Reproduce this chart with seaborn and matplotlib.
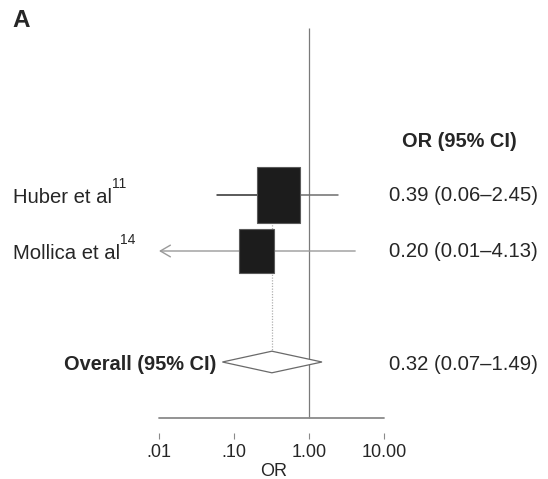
import numpy as np
import pandas as pd
import matplotlib
matplotlib.use("Agg")
import matplotlib.pyplot as plt
from matplotlib.patches import Polygon
import seaborn as sns

# ---------------- data ----------------
studies = ["Huber et al", "Mollica et al"]
study_refs = ["11", "14"]
study_or = [0.39, 0.20]
study_lo = [0.06, 0.01]
study_hi = [2.45, 4.13]
overall_label = "Overall (95% CI)"
overall_or = 0.32
overall_lo = 0.07
overall_hi = 1.49
xticks = [0.01, 0.10, 1.00, 10.00]
xtick_labels = [".01", ".10", "1.00", "10.00"]
col_header = "OR (95% CI)"
x_title = "OR"
panel = "A"

df = pd.DataFrame({"study": studies, "ref": study_refs, "or": study_or,
                   "lo": study_lo, "hi": study_hi})

# ---------------- style / layout ----------------
sns.set_theme(style="white")
plt.rcParams['font.family'] = ['Liberation Sans', 'DejaVu Sans']
TXT = "#262626"
W, H = 548, 479
AX_BOTTOM_PX = 433
X_PX_ONE, X_PX_DEC = 309, 75          # pixel of OR=1, pixels per decade
row0, row_step = 195, 56
box_w_dec = [0.577, 0.462]            # box widths (decades)
box_h = [56, 44]                      # box heights (px)
line_left_colors = ["#2e2e2e", "#9a9a9a"]
line_right_colors = ["#6e6e6e", "#9a9a9a"]

fig = plt.figure(figsize=(W / 100, H / 100), dpi=100)
ax = fig.add_axes([0, (H - AX_BOTTOM_PX) / H, 1, AX_BOTTOM_PX / H])
ax.set_xscale("log")
ax.set_xlim(10 ** (-X_PX_ONE / X_PX_DEC), 10 ** ((W - X_PX_ONE) / X_PX_DEC))
ax.set_ylim(AX_BOTTOM_PX, 0)
ax.patch.set_alpha(0)
for s in ax.spines.values():
    s.set_visible(False)

rows = [row0 + row_step * i for i in range(len(df))]
y_overall = row0 + row_step * 3 - 1
ytr = ax.get_yaxis_transform()
xmin_axis, xmax_axis = xticks[0], xticks[-1]

# null line and axis line
ax.vlines(1.0, 28, 418, color="#7a7a7a", lw=0.9, zorder=1)
ax.plot([xmin_axis, xmax_axis], [418, 418], color="#8a8a8a", lw=1.3, zorder=1)

# dotted line for overall estimate
ax.vlines(overall_or, rows[0] - box_h[0] / 2, y_overall, color="#b0b0b0",
          lw=0.9, linestyles=(0, (1, 1.2)), zorder=1)

# CI lines
for i, r in df.iterrows():
    y = rows[i]
    if r["lo"] <= xmin_axis:
        ax.annotate("", xy=(xmin_axis, y), xytext=(r["hi"], y),
                    arrowprops=dict(arrowstyle="->,head_length=0.6,head_width=0.35",
                                    color=line_left_colors[i], lw=1.0,
                                    shrinkA=0, shrinkB=0), zorder=2)
    else:
        ax.plot([r["lo"], r["or"]], [y, y], color=line_left_colors[i], lw=1.1, zorder=2)
        ax.plot([r["or"], r["hi"]], [y, y], color=line_right_colors[i], lw=1.1, zorder=2)

# boxes
lefts = [o * 10 ** (-w / 2) for o, w in zip(df["or"], box_w_dec)]
rights = [o * 10 ** (w / 2) for o, w in zip(df["or"], box_w_dec)]
ax.barh(rows, [rt - lf for lf, rt in zip(lefts, rights)], left=lefts,
        height=box_h, color="#1c1c1c", edgecolor="#5a5a5a", lw=0.8, zorder=3)

# diamond
dh = 10.8
diamond = Polygon([(overall_lo, y_overall), (overall_or, y_overall - dh),
                   (overall_hi, y_overall), (overall_or, y_overall + dh)],
                  closed=True, facecolor="white", edgecolor="#6a6a6a", lw=0.9, zorder=3)
ax.add_patch(diamond)

# study labels with superscripts
for i, r in df.iterrows():
    y = rows[i]
    t = ax.text(13.3 / W, y + 8, r["study"], transform=ytr, ha="left", va="baseline",
                fontsize=14.6, color=TXT)
    ax.annotate(r["ref"], xy=(1, 1), xycoords=t, xytext=(0.0, -2.5),
                textcoords="offset points", ha="left", va="bottom",
                fontsize=10, color=TXT)
    ax.text(389.3 / W, y + 5.8, f"{r['or']:.2f} ({r['lo']:.2f}\u2013{r['hi']:.2f})",
            transform=ytr, ha="left", va="baseline", fontsize=14.6, color=TXT)

# overall
ax.annotate(overall_label, xy=(overall_lo, y_overall + 7.5), xycoords="data",
            xytext=(-4.5, 0), textcoords="offset points", ha="right", va="baseline",
            fontsize=14.4, fontweight="bold", color=TXT)
ax.text(389.3 / W, y_overall + 7.5,
        f"{overall_or:.2f} ({overall_lo:.2f}\u2013{overall_hi:.2f})",
        transform=ytr, ha="left", va="baseline", fontsize=14.6, color=TXT)

# header
ax.text(401.7 / W, 147, col_header, transform=ytr, ha="left", va="baseline",
        fontsize=14.4, fontweight="bold", color=TXT)

# panel letter
fig.text(12 / W, 1 - 9 / H, panel, ha="left", va="top", fontsize=17.5,
         fontweight="bold", color=TXT)

# x ticks
ax.set_xticks(xticks)
ax.set_xticklabels(xtick_labels)
ax.xaxis.set_minor_locator(matplotlib.ticker.NullLocator())
ax.tick_params(axis="x", which="major", bottom=True, direction="out", length=4,
               width=0.8, color="#8a8a8a", pad=4, labelsize=13, labelcolor=TXT)
ax.set_yticks([])
ax.set_xlabel(x_title, fontsize=13, color=TXT, labelpad=1.5)

fig.savefig("out.png", dpi=100)
